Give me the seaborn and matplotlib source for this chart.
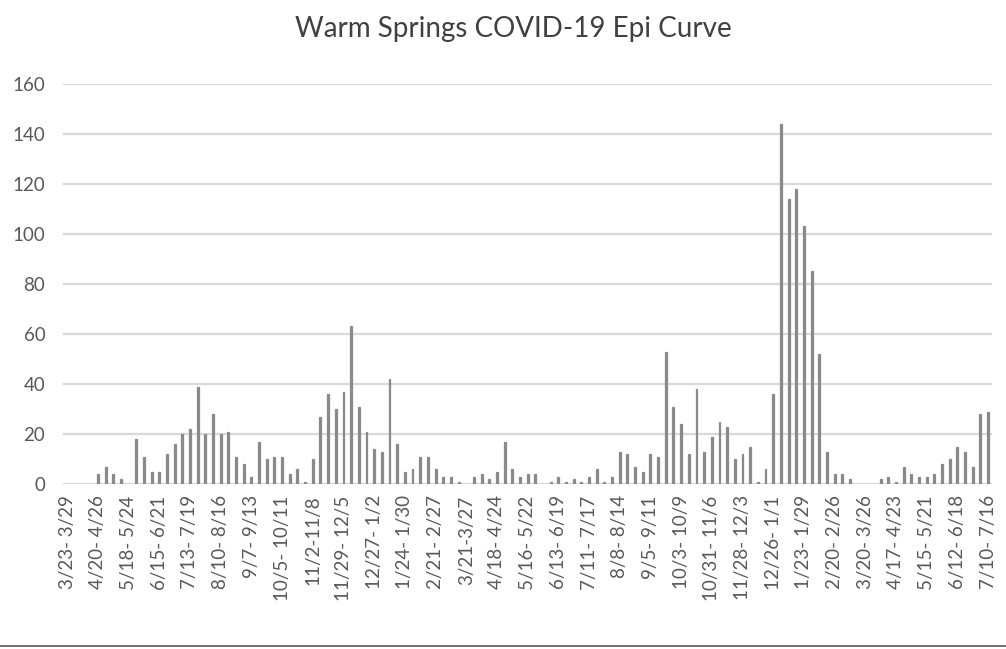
import numpy as np
import matplotlib
matplotlib.use("Agg")
import matplotlib.pyplot as plt
import seaborn as sns
from matplotlib.lines import Line2D

# Weekly case counts, 3/23/2020 through 7/16/2022
cases = [
    0, 0, 0, 0, 4, 7, 4, 2, 0, 18, 11, 5, 5, 12, 16, 20,
    22, 39, 20, 28, 20, 21, 11, 8, 3, 17, 10, 11, 11, 4, 6, 1,
    10, 27, 36, 30, 37, 63, 31, 21, 14, 13, 42, 16, 5, 6, 11, 11,
    6, 3, 3, 1, 0, 3, 4, 2, 5, 17, 6, 3, 4, 4, 0, 1,
    3, 1, 2, 1, 3, 6, 1, 3, 13, 12, 7, 5, 12, 11, 53, 31,
    24, 12, 38, 13, 19, 25, 23, 10, 12, 15, 1, 6, 36, 144, 114, 118,
    103, 85, 52, 13, 4, 4, 2, 0, 0, 0, 2, 3, 1, 7, 4, 3,
    3, 4, 8, 10, 15, 13, 7, 28, 29,
]

# Only every 4th week is labelled on the axis
week_labels = [
    "3/23- 3/29", "4/20- 4/26", "5/18- 5/24", "6/15- 6/21", "7/13- 7/19",
    "8/10- 8/16", "9/7- 9/13", "10/5- 10/11", "11/2-11/8", "11/29- 12/5",
    "12/27- 1/2", "1/24- 1/30", "2/21- 2/27", "3/21-3/27", "4/18- 4/24",
    "5/16- 5/22", "6/13- 6/19", "7/11- 7/17", "8/8- 8/14", "9/5- 9/11",
    "10/3- 10/9", "10/31- 11/6", "11/28- 12/3", "12/26- 1/1", "1/23- 1/29",
    "2/20- 2/26", "3/20- 3/26", "4/17- 4/23", "5/15- 5/21", "6/12- 6/18",
    "7/10- 7/16",
]
label_step = 4

sns.set_theme(style="white")
plt.rcParams['font.family'] = ['Lato', 'DejaVu Sans']

fig, ax = plt.subplots(figsize=(10.06, 6.49), dpi=100)
fig.subplots_adjust(left=0.063, right=0.986, top=0.871, bottom=0.254)

weeks = np.arange(len(cases))
bar_color = '#8a8a8a'
sns.barplot(x=weeks, y=cases, color=bar_color, saturation=1, width=0.25,
            edgecolor=bar_color, linewidth=0.9, errorbar=None, ax=ax, zorder=3)

ax.set_ylim(0, 160)
ax.set_yticks(range(0, 161, 20))
ax.set_xlim(-0.5, len(cases) - 0.5)
ax.set_xticks(weeks[::label_step])
ax.set_xticklabels(week_labels, rotation=90)

ax.grid(axis='y', color='#d9d9d9', linewidth=1.6, zorder=0)
ax.grid(axis='x', visible=False)
sns.despine(ax=ax, left=True, bottom=True)
ax.tick_params(axis='both', length=0, colors='#595959', labelsize=13.5)
ax.tick_params(axis='x', pad=8)
ax.tick_params(axis='y', pad=13)
ax.set_xlabel('')
ax.set_ylabel('')

fig.suptitle('Warm Springs COVID-19 Epi Curve', x=0.51, y=0.975,
             fontsize=20, color='#404040')

# chart frame bottom edge
fig.add_artist(Line2D([0, 1], [0.005, 0.005], color='#595959', linewidth=1.2))

fig.savefig('out.png', dpi=100)
